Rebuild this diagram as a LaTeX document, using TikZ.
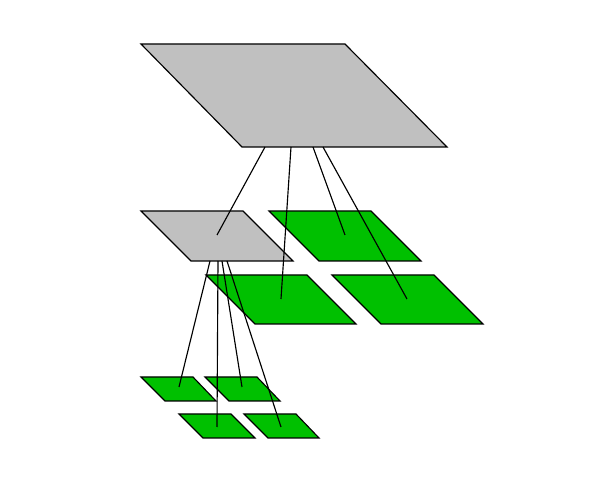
\documentclass[tikz,border=0pt]{standalone}
\usepackage{xcolor}
\usepackage{tikz}

\definecolor{tilegray}{RGB}{192,192,192}
\definecolor{tilegreen}{RGB}{0,192,0}

\begin{document}
\begin{tikzpicture}[x=0.02cm,y=-0.02cm,line width=0.65pt,
		tile/.style={draw=black,fill=#1,line join=miter},
		link/.style={draw=black}]
	\useasboundingbox (0,0) rectangle (600,490);

	% Root tile
	\draw[tile=tilegray] (141,44) -- (345,44) -- (447,147) -- (242,147) -- cycle;

	% Second level, spread apart
	\draw[tile=tilegray]  (141,211) -- (243,211) -- (293,261) -- (191,261) -- cycle;
	\draw[tile=tilegreen] (269,211) -- (371,211) -- (421,261) -- (319,261) -- cycle;
	\draw[tile=tilegreen] (206,275) -- (307,275) -- (356,324) -- (255,324) -- cycle;
	\draw[tile=tilegreen] (332,275) -- (434,275) -- (483,324) -- (381,324) -- cycle;

	% Third level
	\draw[tile=tilegreen] (141,377) -- (193,377) -- (216,401) -- (165,401) -- cycle;
	\draw[tile=tilegreen] (205,377) -- (257,377) -- (280,401) -- (229,401) -- cycle;
	\draw[tile=tilegreen] (179,414) -- (231,414) -- (255,438) -- (203,438) -- cycle;
	\draw[tile=tilegreen] (244,414) -- (296,414) -- (319,438) -- (268,438) -- cycle;

	% Link points
	\coordinate (r1) at (265,147);
	\coordinate (r2) at (291,147);
	\coordinate (r3) at (313,147);
	\coordinate (r4) at (323,147);
	\coordinate (m1) at (217,235);
	\coordinate (m2) at (345,235);
	\coordinate (m3) at (281,299);
	\coordinate (m4) at (407,299);

	\coordinate (s1) at (210,261);
	\coordinate (s2) at (218,261);
	\coordinate (s3) at (222,261);
	\coordinate (s4) at (227,261);
	\coordinate (t1) at (179,387);
	\coordinate (t2) at (242,387);
	\coordinate (t3) at (217,427);
	\coordinate (t4) at (281,427);

	% Links from parent to children
	\draw[link] (r1) -- (m1);
	\draw[link] (r2) -- (m3);
	\draw[link] (r3) -- (m2);
	\draw[link] (r4) -- (m4);

	\draw[link] (s1) -- (t1);
	\draw[link] (s2) -- (t3);
	\draw[link] (s3) -- (t2);
	\draw[link] (s4) -- (t4);
\end{tikzpicture}
\end{document}
